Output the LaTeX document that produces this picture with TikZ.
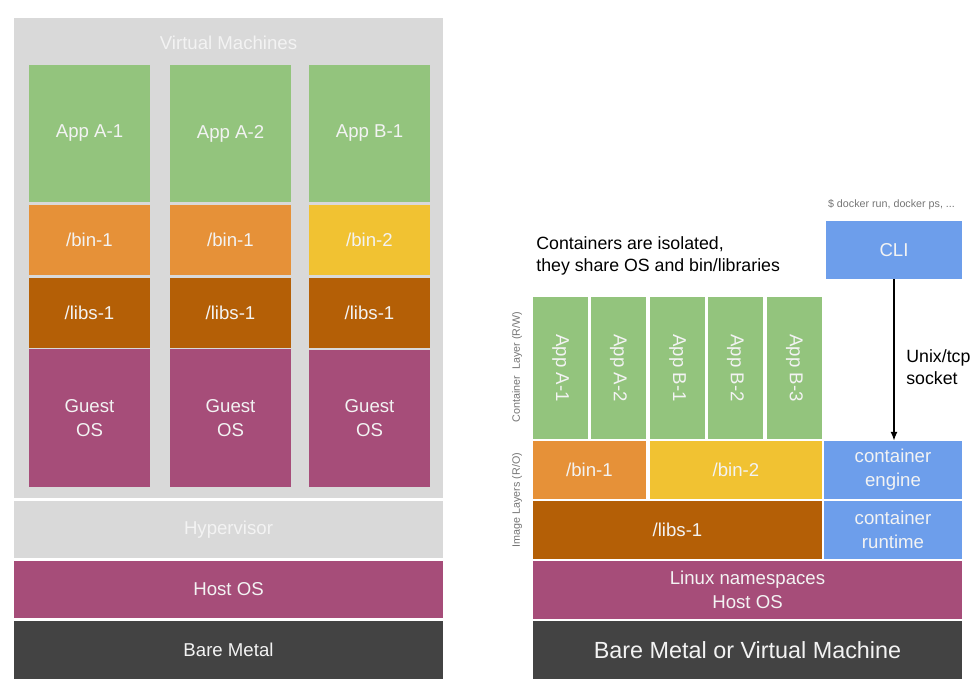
\documentclass[tikz,border=0pt]{standalone}
\usepackage{fontspec}
\setmainfont{Liberation Sans}
\usetikzlibrary{arrows.meta}

\definecolor{vmgray}{HTML}{D9D9D9}
\definecolor{appgreen}{HTML}{93C47D}
\definecolor{binorange}{HTML}{E69138}
\definecolor{binyellow}{HTML}{F1C232}
\definecolor{libbrown}{HTML}{B45F06}
\definecolor{osplum}{HTML}{A64D79}
\definecolor{metal}{HTML}{434343}
\definecolor{dockblue}{HTML}{6D9EEB}
\definecolor{lighttext}{HTML}{F3F3F3}
\definecolor{notegray}{HTML}{757575}

\begin{document}
	\begin{tikzpicture}[x=0.02cm, y=-0.02cm,
		blk/.style={inner sep=0pt, text=lighttext, align=center, font=\fontsize{10.6}{13.6}\selectfont},
		note/.style={inner sep=0pt, text=notegray, font=\fontsize{6.1}{7.3}\selectfont},
		remark/.style={inner sep=0pt, text=black, align=left, font=\fontsize{10.1}{12.3}\selectfont}]
		\useasboundingbox (0,0) rectangle (975,689);

		% Left side: virtual machines
		\node (vm) [blk, fill=vmgray, minimum width=8.58cm, minimum height=9.6cm] at (228.5, 258) {};
		\node (vmlabel) [blk] at (228.5, 43) {Virtual Machines};

		% Apps of each VM
		\node (appa1) [blk, fill=appgreen, minimum width=2.42cm, minimum height=2.74cm] at (89.5, 133.5) {App A-1};
		\node (appa2) [blk, fill=appgreen, minimum width=2.42cm, minimum height=2.74cm] at (230.5, 133.5) {App A-2};
		\node (appb1) [blk, fill=appgreen, minimum width=2.42cm, minimum height=2.74cm] at (369.5, 133.5) {App B-1};

		% bin and libs of each VM
		\node (bina) [blk, fill=binorange, minimum width=2.42cm, minimum height=1.4cm] at (89.5, 240) {/bin-1};
		\node (binb) [blk, fill=binorange, minimum width=2.42cm, minimum height=1.4cm] at (230.5, 240) {/bin-1};
		\node (binc) [blk, fill=binyellow, minimum width=2.42cm, minimum height=1.4cm] at (369.5, 240) {/bin-2};
		\node (libsa) [blk, fill=libbrown, minimum width=2.42cm, minimum height=1.4cm] at (89.5, 313) {/libs-1};
		\node (libsb) [blk, fill=libbrown, minimum width=2.42cm, minimum height=1.4cm] at (230.5, 313) {/libs-1};
		\node (libsc) [blk, fill=libbrown, minimum width=2.42cm, minimum height=1.4cm] at (369.5, 313) {/libs-1};

		% Guest operating systems
		\node (guesta) [blk, fill=osplum, minimum width=2.42cm, minimum height=2.76cm] at (89.5, 418) {Guest\\OS};
		\node (guestb) [blk, fill=osplum, minimum width=2.42cm, minimum height=2.76cm] at (230.5, 418) {Guest\\OS};
		\node (guestc) [blk, fill=osplum, minimum width=2.42cm, minimum height=2.76cm] at (369.5, 418.5) {Guest\\OS};

		% Hypervisor, host and hardware
		\node (hyper) [blk, fill=vmgray, minimum width=8.58cm, minimum height=1.14cm] at (228.5, 529.5) {Hypervisor};
		\node (hostl) [blk, fill=osplum, minimum width=8.58cm, minimum height=1.14cm] at (228.5, 589.5) {Host OS};
		\node (metall) [blk, fill=metal, minimum width=8.58cm, minimum height=1.16cm] at (228.5, 650) {Bare Metal};

		% Right side: containers
		\node (cmd) [note] at (891.5, 205) {\$ docker run, docker ps, ...};
		\node (cli) [blk, fill=dockblue, minimum width=2.72cm, minimum height=1.16cm] at (894, 250) {CLI};
		\node (isol) [remark, anchor=west] at (536, 256) {Containers are isolated,\\they share OS and bin/libraries};

		% Container layer
		\node (ca1) [blk, fill=appgreen, minimum width=2.84cm, minimum height=1.1cm, rotate=-90] at (560.5, 368) {App A-1};
		\node (ca2) [blk, fill=appgreen, minimum width=2.84cm, minimum height=1.1cm, rotate=-90] at (618.5, 368) {App A-2};
		\node (cb1) [blk, fill=appgreen, minimum width=2.84cm, minimum height=1.1cm, rotate=-90] at (677.5, 368) {App B-1};
		\node (cb2) [blk, fill=appgreen, minimum width=2.84cm, minimum height=1.1cm, rotate=-90] at (735.5, 368) {App B-2};
		\node (cb3) [blk, fill=appgreen, minimum width=2.84cm, minimum height=1.1cm, rotate=-90] at (794.5, 368) {App B-3};
		\node (rwlabel) [note, rotate=90] at (517, 367) {Container\ \ Layer (R/W)};

		% Image layers
		\node (cbin1) [blk, fill=binorange, minimum width=2.26cm, minimum height=1.16cm] at (589.5, 470) {/bin-1};
		\node (cbin2) [blk, fill=binyellow, minimum width=3.44cm, minimum height=1.16cm] at (736, 470) {/bin-2};
		\node (clibs) [blk, fill=libbrown, minimum width=5.78cm, minimum height=1.16cm] at (677.5, 530) {/libs-1};
		\node (rolabel) [note, rotate=90] at (517, 500) {Image Layers (R/O)};

		% Engine and runtime
		\node (engine) [blk, fill=dockblue, minimum width=2.76cm, minimum height=1.16cm] at (893, 470) {container\\engine};
		\node (runtime) [blk, fill=dockblue, minimum width=2.76cm, minimum height=1.16cm] at (893, 530) {container\\runtime};

		% Host and hardware
		\node (hostr) [blk, fill=osplum, minimum width=8.58cm, minimum height=1.16cm] at (747.5, 590) {Linux namespaces\\Host OS};
		\node (metalr) [blk, fill=metal, minimum width=8.58cm, minimum height=1.16cm, font=\fontsize{13.3}{16}\selectfont] at (747.5, 650) {Bare Metal or Virtual Machine};

		% CLI talks to the engine
		\draw [line width=0.85pt, -{Latex[length=5pt, width=4pt]}] (cli.south) -- (cli.south |- engine.north);
		\node (sock) [remark, anchor=west] at (906, 367) {Unix/tcp\\socket};
	\end{tikzpicture}
\end{document}
